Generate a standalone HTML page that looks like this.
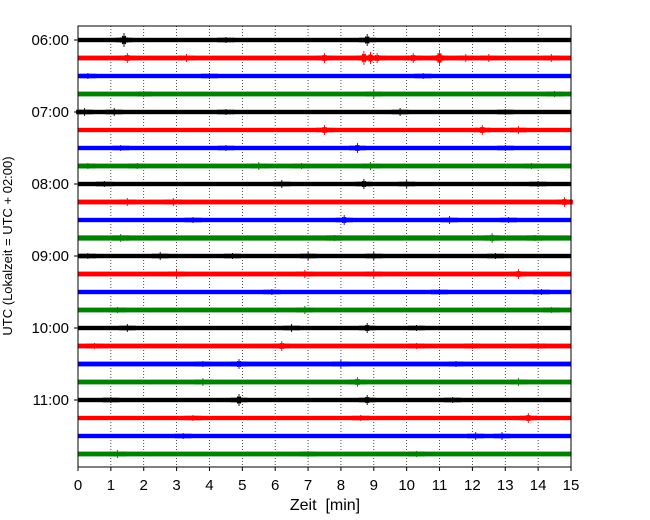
<!DOCTYPE html>
<html><head><meta charset="utf-8">
<style>
html,body{margin:0;padding:0;background:#fff;}
svg{display:block;font-family:"Liberation Sans","DejaVu Sans",sans-serif;}
</style></head>
<body>
<svg id="chart" width="650" height="520" viewBox="0 0 650 520">
<g id="grid"></g>
<g id="traces"></g>
<rect x="78" y="26" width="493" height="441" fill="none" stroke="#000" stroke-width="1"/>
<g id="xaxis"></g>
<g id="yaxis"></g>
<text x="325" y="510" text-anchor="middle" font-size="16">Zeit&#160; [min]</text>
<text transform="translate(12,246) rotate(-90)" text-anchor="middle" font-size="13">UTC (Lokalzeit = UTC + 02:00)</text>
</svg>
<script>
const xTicks=[0,1,2,3,4,5,6,7,8,9,10,11,12,13,14,15];
const yTickTraces=[0,4,8,12,16,20];
const yTickLabels=["06:00","07:00","08:00","09:00","10:00","11:00"];
const traceColors=["#000000","#ff0000","#0000ff","#008000"];
const traceCount=24;
const baseAmp=[2.2,2.4,2.2,2.4,2.2,2.2,2.2,2.4,2.2,2.4,2.2,2.6,2.2,2.4,2.2,2.4,2.2,2.4,2.4,2.4,2.2,2.2,2.2,2.4];
const events=[
[[1.4,7],[8.8,6],[4.5,3]],
[[1.5,5],[3.3,4],[7.5,5],[8.7,7],[8.9,6],[9.1,5],[10.2,5],[11.0,8],[11.8,4],[12.5,4],[14.4,4]],
[[0.3,3],[4.0,3],[10.5,3]],
[[2.0,3],[9.0,4],[14.5,3]],
[[0.2,4],[1.1,4],[4.5,3],[9.8,4],[13.0,3]],
[[7.5,5],[12.3,5],[13.4,4]],
[[1.3,3],[4.5,3],[8.5,5],[13.0,3]],
[[0.3,3],[1.8,3],[5.5,4],[6.8,3],[8.9,4],[13.8,3]],
[[0.8,3],[6.2,4],[8.7,5],[10.0,4],[14.0,3]],
[[1.5,4],[2.9,4],[14.8,5]],
[[3.5,3],[8.1,5],[11.3,4],[13.1,3]],
[[1.3,4],[7.8,3],[12.6,5],[13.9,3]],
[[0.3,3],[2.5,4],[4.7,3],[7.0,4],[9.0,4],[12.7,3]],
[[3.0,4],[6.9,4],[9.0,4],[13.4,5]],
[[5.9,3],[11.0,3],[14.1,3]],
[[1.2,3],[6.9,4],[14.4,3]],
[[1.5,4],[6.5,4],[8.8,5],[10.3,3]],
[[0.5,3],[6.2,5],[10.3,3],[12.0,3],[14.0,3]],
[[3.8,3],[4.9,5],[8.0,4],[11.5,3]],
[[3.8,4],[8.5,5],[13.4,4]],
[[1.0,3],[4.9,6],[8.8,5],[11.4,3]],
[[3.5,3],[8.6,3],[13.7,5]],
[[3.2,3],[12.1,4],[12.9,4]],
[[1.2,4],[7.0,3],[10.3,3]]
];
const NS="http://www.w3.org/2000/svg";
function xScale(t){return 78+t*(493/15);}
function yScale(i){return 40+i*18;}
function mk(tag,attrs,parent){const e=document.createElementNS(NS,tag);for(const k in attrs)e.setAttribute(k,attrs[k]);parent.appendChild(e);return e;}
const grid=document.getElementById('grid'),xa=document.getElementById('xaxis'),ya=document.getElementById('yaxis'),tr=document.getElementById('traces');
xTicks.forEach(t=>{
  const x=xScale(t);
  if(t>0&&t<15){const g=mk('line',{x1:x,x2:x,y1:26,y2:467,stroke:'#000','stroke-width':0.7,'stroke-dasharray':'1,2'},grid);
  
  }
  const tk=mk('line',{x1:x,x2:x,y1:467,y2:471,stroke:'#000'},xa);
  
  
  const lb=mk('text',{x:x,y:490,'text-anchor':'middle','font-size':15},xa);lb.textContent=t;
  
  
});
yTickTraces.forEach((ti,k)=>{
  const y=yScale(ti);
  const tk=mk('line',{x1:74,x2:78,y1:y,y2:y,stroke:'#000'},ya);
  
  
  const lb=mk('text',{x:69,y:y+5,'text-anchor':'end','font-size':15},ya);lb.textContent=yTickLabels[k];
  
  
});
for(let i=0;i<traceCount;i++){
  const y=yScale(i),c=traceColors[i%4];
  const g=mk('g',{},tr);
  
  
  mk('rect',{x:xScale(0),y:y-baseAmp[i],width:xScale(15)-xScale(0),height:baseAmp[i]*2,fill:c},g);
  events[i].forEach(ev=>{
    const [t,a]=ev;let d='';
    const n=10;
    for(let j=-n;j<=n;j++){
      const x=xScale(t)+j*0.8;
      const env=Math.exp(-Math.abs(j)/4)*(j%2===0?1:0.7);
      const amp=Math.max(baseAmp[i],a*env);
      d+='M'+x.toFixed(1)+' '+(y-amp).toFixed(1)+'V'+(y+amp).toFixed(1);
    }
    const p=mk('path',{d:d,stroke:c,'stroke-width':0.9},g);
    
    
  });
}
</script>
</body></html>
